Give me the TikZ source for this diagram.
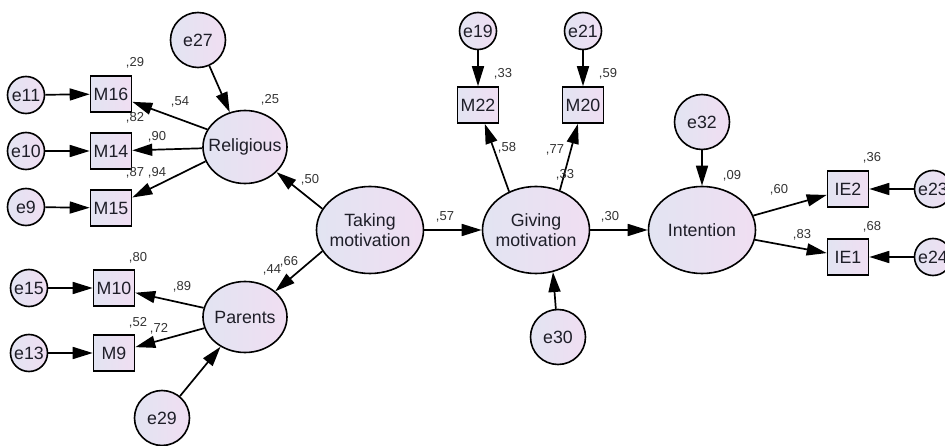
\documentclass[tikz,border=0pt]{standalone}
\usepackage{fontspec}
\setmainfont{Liberation Sans}
\usetikzlibrary{arrows.meta,shapes.geometric}

\definecolor{amosleft}{RGB}{226,228,242}
\definecolor{amosright}{RGB}{240,222,242}
\definecolor{amostext}{RGB}{30,30,40}

\tikzset{
  varfill/.style={draw, line width=1.6pt, left color=amosleft, right color=amosright, text=amostext,
    font=\fontsize{17.75}{20}\selectfont, inner sep=0pt},
  errsmall/.style={varfill, circle, minimum size=37pt},
  errbig/.style={varfill, circle, minimum size=55pt},
  obsvar/.style={varfill, rectangle, minimum width=41pt, minimum height=36pt},
  latentvar/.style={varfill, ellipse, align=center, inner xsep=-12pt, minimum width=107pt, minimum height=87pt},
  regarrow/.style={draw, line width=1.7pt, -{Triangle[length=20pt,width=12pt]}},
  estim/.style={font=\fontsize{13}{15}\selectfont, text=black!80, inner sep=0pt}
}

\begin{document}
\begin{tikzpicture}[x=1pt,y=-1pt]
\useasboundingbox (0,0) rectangle (945,446);

% error terms
\node[errsmall] (e11) at (26,95) {e11};
\node[errsmall] (e10) at (26,151) {e10};
\node[errsmall] (e9) at (26,207) {e9};
\node[errsmall] (e15) at (29,288) {e15};
\node[errsmall] (e13) at (29,353) {e13};
\node[errsmall] (e19) at (478,31) {e19};
\node[errsmall] (e21) at (583,31) {e21};
\node[errsmall] (e23) at (933,189) {e23};
\node[errsmall] (e24) at (933,257) {e24};
\node[errbig] (e27) at (198,40) {e27};
\node[errbig] (e29) at (162,418) {e29};
\node[errbig] (e30) at (558,337) {e30};
\node[errbig] (e32) at (702,122) {e32};

% observed items
\node[obsvar] (M16) at (111,94) {M16};
\node[obsvar] (M14) at (111,151) {M14};
\node[obsvar] (M15) at (111,208) {M15};
\node[obsvar] (M10) at (114,288) {M10};
\node[obsvar] (M9) at (114,353) {M9};
\node[obsvar] (M22) at (478,105) {M22};
\node[obsvar] (M20) at (583,105) {M20};
\node[obsvar] (IE2) at (848,189) {IE2};
\node[obsvar] (IE1) at (848,257) {IE1};

% latent variables
\node[latentvar, minimum width=84pt, minimum height=73pt] (religious) at (245,147) {Religious};
\node[latentvar, minimum width=84pt, minimum height=71pt] (parents) at (245,317) {Parents};
\node[latentvar] (taking) at (370,230) {Taking\\motivation};
\node[latentvar] (giving) at (536,230) {Giving\\motivation};
\node[latentvar] (intention) at (702,230) {Intention};

% paths
\draw[regarrow] (e11) -- (M16);
\draw[regarrow] (e10) -- (M14);
\draw[regarrow] (e9) -- (M15);
\draw[regarrow] (e15) -- (M10);
\draw[regarrow] (e13) -- (M9);
\draw[regarrow] (religious.155) -- (M16);
\draw[regarrow] (religious) -- (M14);
\draw[regarrow] (religious.200) -- (M15);
\draw[regarrow] (parents) -- (M10);
\draw[regarrow] (parents) -- (M9);
\draw[regarrow] (e27) -- (religious);
\draw[regarrow] (e29) -- (parents);
\draw[regarrow] (taking.156) -- (religious);
\draw[regarrow] (taking.204) -- (parents);
\draw[regarrow] (taking) -- (giving);
\draw[regarrow] (giving.125) -- (M22);
\draw[regarrow] (giving.59) -- (M20);
\draw[regarrow] (e19) -- (M22);
\draw[regarrow] (e21) -- (M20);
\draw[regarrow] (e30) -- (giving.-68);
\draw[regarrow] (giving) -- (intention);
\draw[regarrow] (e32) -- (intention);
\draw[regarrow] (intention) -- (IE2);
\draw[regarrow] (intention) -- (IE1);
\draw[regarrow] (e23) -- (IE2);
\draw[regarrow] (e24) -- (IE1);

% estimates
\node[estim] (rM16) at (135,63) {,29};
\node[estim] (bM16) at (180,102) {,54};
\node[estim] (rM14) at (135,118) {,82};
\node[estim] (bM14) at (157,137) {,90};
\node[estim] (rM15) at (135,173) {,87};
\node[estim] (bM15) at (157,173) {,94};
\node[estim] (rrel) at (270,100) {,25};
\node[estim] (brel) at (310,180) {,50};
\node[estim] (rM10) at (138,258) {,80};
\node[estim] (bM10) at (182,287) {,89};
\node[estim] (rM9) at (138,323) {,52};
\node[estim] (bM9) at (159,329) {,72};
\node[estim] (rpar) at (272,270) {,44};
\node[estim] (bpar) at (289,262) {,66};
\node[estim] (rM22) at (503,74) {,33};
\node[estim] (rM20) at (608,74) {,59};
\node[estim] (bM22) at (507,148) {,58};
\node[estim] (bM20) at (555,150) {,77};
\node[estim] (rgiv) at (565,175) {,33};
\node[estim] (bgiv) at (445,217) {,57};
\node[estim] (bint) at (610,217) {,30};
\node[estim] (rint) at (732,176) {,09};
\node[estim] (bIE2) at (779,190) {,60};
\node[estim] (bIE1) at (802,235) {,83};
\node[estim] (rIE2) at (872,158) {,36};
\node[estim] (rIE1) at (872,227) {,68};
\end{tikzpicture}
\end{document}
